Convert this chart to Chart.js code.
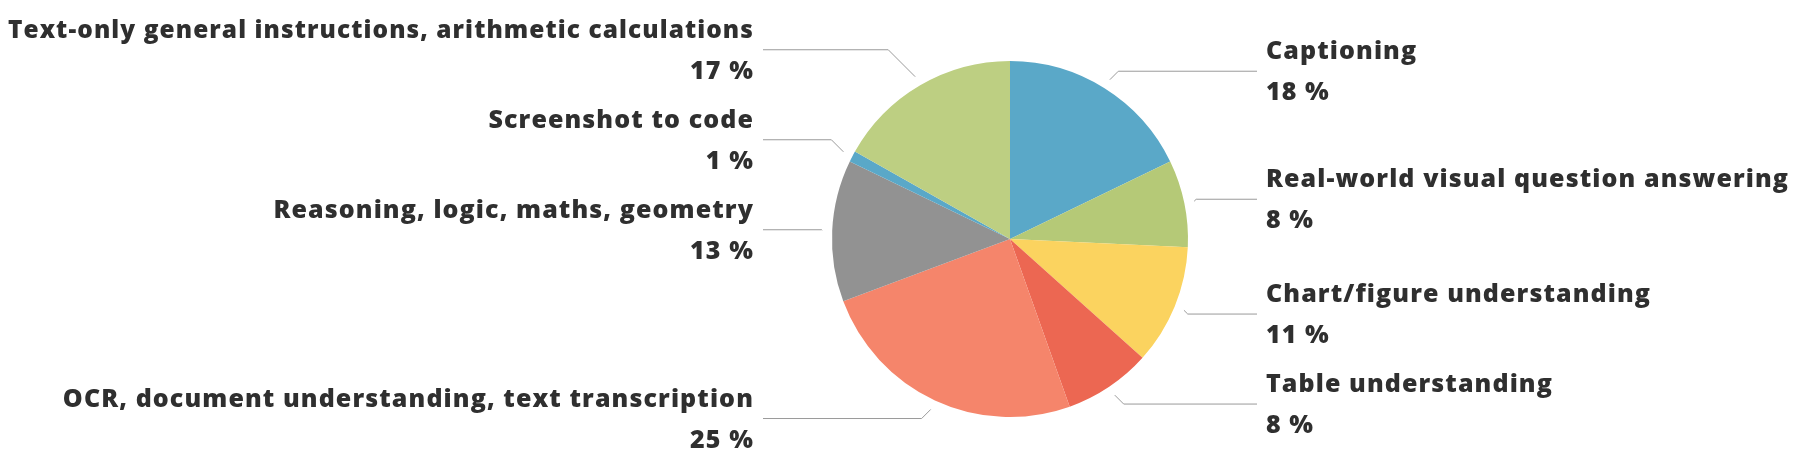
<!DOCTYPE html>
<html>
<head>
<meta charset="utf-8">
<script src="https://cdn.jsdelivr.net/npm/chart.js@4"></script>
<style>
  html, body { margin: 0; padding: 0; background: #fff; }
  #wrap { width: 1800px; height: 465px; position: relative; }
</style>
</head>
<body>
<div id="wrap"><canvas id="shareChart"></canvas></div>
<script>
const categories = [
  'Captioning',
  'Real-world visual question answering',
  'Chart/figure understanding',
  'Table understanding',
  'OCR, document understanding, text transcription',
  'Reasoning, logic, maths, geometry',
  'Screenshot to code',
  'Text-only general instructions, arithmetic calculations'
];
const shares = [18, 8, 11, 8, 25, 13, 1, 17];
const sliceColors = ['#5aa8c8', '#b5c977', '#fbd35f', '#ec6752', '#f5856b', '#929292', '#5aa8c8', '#bdcf82'];

// labels outside the pie, with elbow leader lines
const outerLabels = {
  id: 'outerLabels',
  afterDatasetsDraw(chart) {
    const ctx = chart.ctx;
    const arcs = chart.getDatasetMeta(0).data;
    const gap = 90;
    const items = arcs.map((arc, i) => {
      const p = arc.getProps(['x', 'y', 'startAngle', 'endAngle', 'outerRadius'], true);
      const mid = (p.startAngle + p.endAngle) / 2;
      return {
        i, mid, cx: p.x, r: p.outerRadius,
        ax: p.x + Math.cos(mid) * (p.outerRadius + 10),
        ay: p.y + Math.sin(mid) * (p.outerRadius + 10),
        ty: p.y + Math.sin(mid) * (p.outerRadius + 20),
        right: Math.cos(mid) >= 0
      };
    });
    const right = items.filter(d => d.right).sort((a, b) => a.mid - b.mid);
    const left = items.filter(d => !d.right).sort((a, b) => a.mid - b.mid);
    right.forEach((d, k) => { d.ly = k ? Math.max(d.ty, right[k - 1].ly + gap) : d.ty; });
    left.forEach((d, k) => { d.ly = k ? Math.min(d.ty, left[k - 1].ly - gap) : d.ty; });

    ctx.save();
    items.forEach(d => {
      const dir = d.right ? 1 : -1;
      const ex = d.ax + dir * Math.abs(d.ly - d.ay);
      const endX = d.cx + dir * (d.r + 69);
      ctx.strokeStyle = '#9a9a9a';
      ctx.lineWidth = 1;
      ctx.beginPath();
      ctx.moveTo(d.ax, d.ay);
      ctx.lineTo(Math.abs(ex - d.cx) < Math.abs(endX - d.cx) ? ex : d.ax, d.ly);
      ctx.lineTo(endX, d.ly);
      ctx.stroke();

      const tx = d.cx + dir * (d.r + 78);
      const room = d.right ? chart.width - tx - 6 : tx - 8;
      ctx.fillStyle = '#2f2f2f';
      ctx.font = '800 25px "Open Sans"';
      ctx.letterSpacing = '1.1px';
      ctx.textAlign = d.right ? 'left' : 'right';
      ctx.textBaseline = 'alphabetic';
      ctx.fillText(categories[d.i], tx, d.ly - 12, room);
      ctx.fillText(shares[d.i] + ' %', tx, d.ly + 29, room);
    });
    ctx.restore();
  }
};

new Chart(document.getElementById('shareChart'), {
  type: 'pie',
  data: {
    labels: categories,
    datasets: [{
      data: shares,
      backgroundColor: sliceColors,
      borderWidth: 0
    }]
  },
  options: {
    responsive: true,
    maintainAspectRatio: false,
    animation: false,
    layout: {
      padding: { left: 832, right: 612, top: 61, bottom: 48 }
    },
    plugins: {
      legend: { display: false },
      tooltip: { enabled: false }
    }
  },
  plugins: [outerLabels]
});
</script>
</body>
</html>
